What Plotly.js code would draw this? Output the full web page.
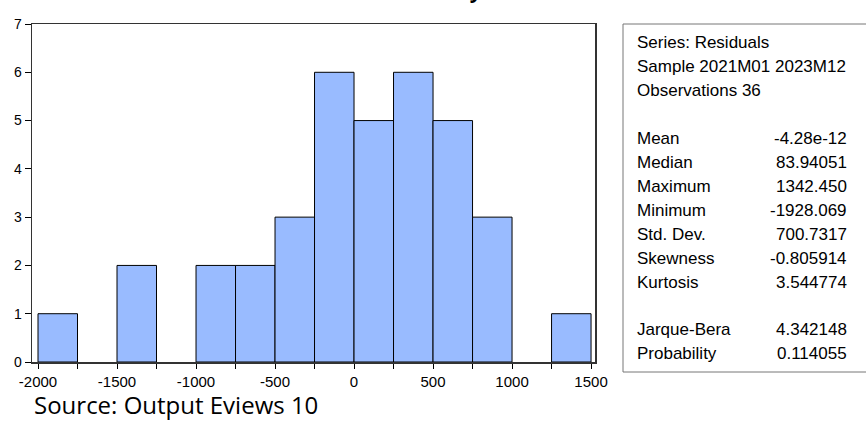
<!DOCTYPE html>
<html>
<head>
<meta charset="utf-8">
<script src="https://cdn.plot.ly/plotly-3.0.1.min.js"></script>
<style>html,body{margin:0;padding:0;background:#fff;}#chart{width:866px;height:421px;}</style>
</head>
<body>
<div id="chart"></div>
<script>
// Histogram data (bins of width 250)
var binStarts = [-2000, -1750, -1500, -1250, -1000, -750, -500, -250, 0, 250, 500, 750, 1000, 1250];
var counts    = [1, 0, 2, 0, 2, 2, 3, 6, 5, 6, 5, 3, 0, 1];
var binWidth = 250;
var xTickVals   = [-2000, -1500, -1000, -500, 0, 500, 1000, 1500];
var xTickLabels = ["-2000", "-1500", "-1000", "-500", "0", "500", "1000", "1500"];
var yTickVals   = [0, 1, 2, 3, 4, 5, 6, 7];

// Statistics panel
var statHeader = ["Series: Residuals", "Sample 2021M01 2023M12", "Observations 36"];
var statNames  = ["Mean", "Median", "Maximum", "Minimum", "Std. Dev.", "Skewness", "Kurtosis"];
var statValues = ["-4.28e-12", "83.94051", "1342.450", "-1928.069", "700.7317", "-0.805914", "3.544774"];
var testNames  = ["Jarque-Bera", "Probability"];
var testValues = ["4.342148", "0.114055"];

var titleText = "Table 4.4 Normality Test Results";
var sourceText = "Source: Output Eviews 10";

var L = 32, T = 24, W = 563, H = 338;
function px(p){ return (p - L) / W; }
function py(p){ return (T + H - p) / H; }

var centers = binStarts.map(function(b){ return b + binWidth / 2; });

var trace = {
  type: 'bar',
  x: centers,
  y: counts,
  width: binWidth,
  marker: {color: '#99BBFF', line: {color: '#000000', width: counts.map(function(c){ return c > 0 ? 1 : 0; })}},
  hoverinfo: 'x+y'
};

var statFont = {family: 'Liberation Sans', size: 17, color: '#000'};
var ann = [];
var lineY = function(i){ return 43 + i * 23.9; };
statHeader.forEach(function(t, i){
  ann.push({xref:'paper', yref:'paper', x: px(635), y: py(lineY(i)), xanchor:'left', yanchor:'middle', text: t, showarrow:false, font: statFont});
});
statNames.forEach(function(t, i){
  ann.push({xref:'paper', yref:'paper', x: px(635), y: py(lineY(i+4)), xanchor:'left', yanchor:'middle', text: t, showarrow:false, font: statFont});
  ann.push({xref:'paper', yref:'paper', x: px(849), y: py(lineY(i+4)), xanchor:'right', yanchor:'middle', text: statValues[i], showarrow:false, font: statFont});
});
testNames.forEach(function(t, i){
  ann.push({xref:'paper', yref:'paper', x: px(635), y: py(lineY(i+12)), xanchor:'left', yanchor:'middle', text: t, showarrow:false, font: statFont});
  ann.push({xref:'paper', yref:'paper', x: px(849), y: py(lineY(i+12)), xanchor:'right', yanchor:'middle', text: testValues[i], showarrow:false, font: statFont});
});
ann.push({xref:'paper', yref:'paper', x: px(445), y: py(6), xanchor:'center', yanchor:'bottom', text: '<b>' + titleText + '</b>', showarrow:false, font:{family:'Open Sans', size:21, color:'#000'}});
ann.push({xref:'paper', yref:'paper', x: px(32), y: py(404), xanchor:'left', yanchor:'middle', text: sourceText, showarrow:false, font:{family:'Open Sans', size:24, color:'#000'}});

var layout = {
  width: 866, height: 421,
  margin: {l: L, r: 866 - L - W, t: T, b: 421 - T - H, pad: 0},
  paper_bgcolor: '#fff', plot_bgcolor: '#fff',
  showlegend: false,
  bargap: 0,
  xaxis: {
    range: [-2038, 1525], tickvals: xTickVals, ticktext: xTickLabels, ticks: 'outside', ticklen: 5, tickcolor: '#000', tickwidth: 1,
    minor: {dtick: 250, tick0: -2000, ticks: 'outside', ticklen: 5, tickcolor: '#000'},
    showline: true, mirror: true, linecolor: '#333', linewidth: 1.5,
    showgrid: false, zeroline: false,
    tickfont: {family: 'Liberation Sans', size: 15, color: '#000'}
  },
  yaxis: {
    range: [0, 7], tickvals: yTickVals, ticks: 'outside', ticklen: 6, tickcolor: '#000', tickwidth: 1,
    showline: true, mirror: true, linecolor: '#333', linewidth: 1.5,
    showgrid: false, zeroline: false,
    tickfont: {family: 'Liberation Sans', size: 14, color: '#000'}
  },
  shapes: [{
    type: 'rect', xref: 'paper', yref: 'paper',
    x0: px(623), x1: px(880), y0: py(372), y1: py(24),
    line: {color: '#777', width: 1}, fillcolor: 'rgba(0,0,0,0)'
  }],
  annotations: ann
};

Plotly.newPlot('chart', [trace], layout, {displayModeBar: false, staticPlot: true});
</script>
</body>
</html>
